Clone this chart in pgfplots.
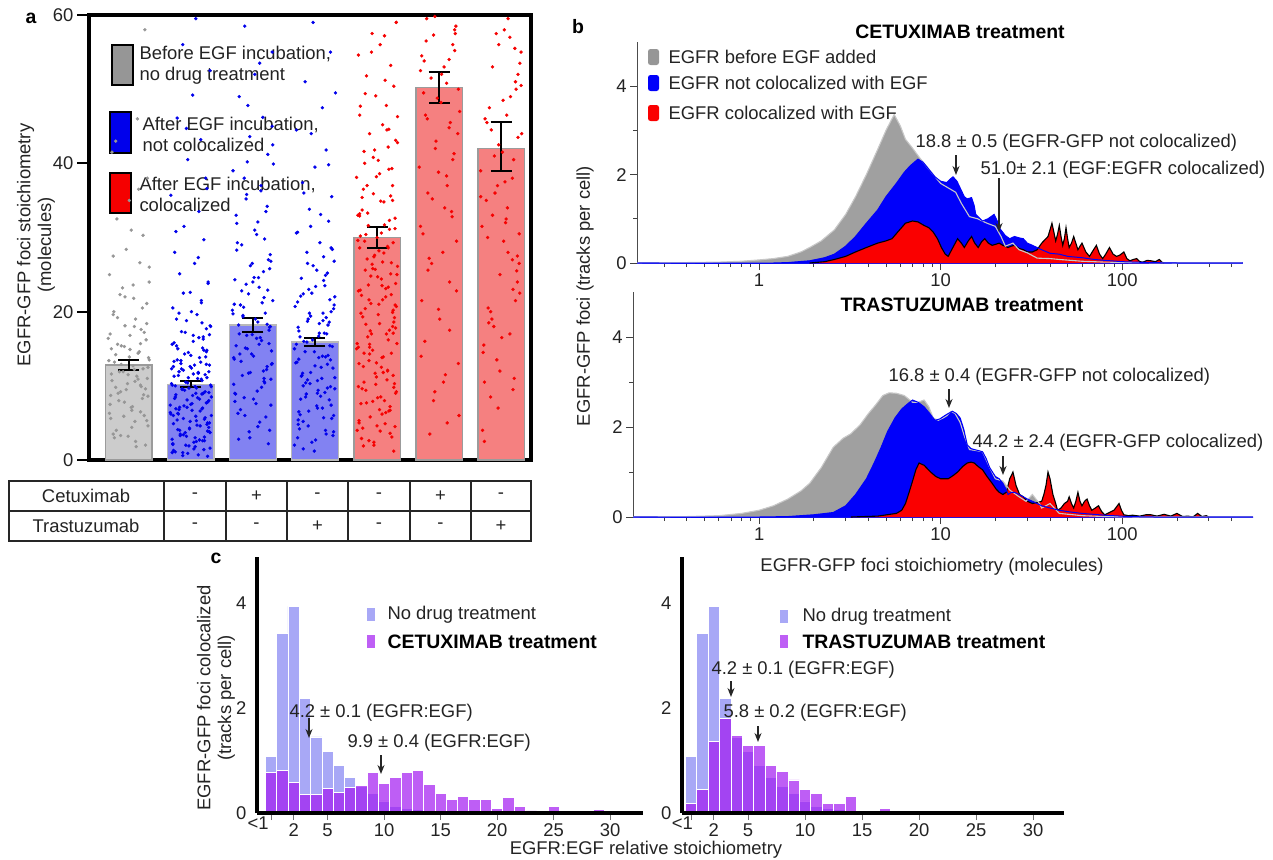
\documentclass[border=0pt]{standalone}
\usepackage{fontspec}
\setmainfont{Liberation Sans}
\usepackage{pgfplots}
\usepackage{pgfplotstable}
\pgfplotsset{compat=1.18}
\usetikzlibrary{arrows.meta}

\definecolor{barGray}{RGB}{204,204,204}
\definecolor{barBlue}{RGB}{130,130,242}
\definecolor{barRed}{RGB}{245,128,128}
\definecolor{edgeGray}{RGB}{155,155,155}
\definecolor{dotGray}{RGB}{150,150,150}
\definecolor{dotBlue}{RGB}{0,0,235}
\definecolor{dotRed}{RGB}{245,0,0}
\definecolor{legGray}{RGB}{150,150,150}
\definecolor{kdeGray}{RGB}{160,160,160}
\definecolor{kdeLine}{RGB}{200,200,200}
\definecolor{kdeBlue}{RGB}{0,0,250}
\definecolor{kdeRed}{RGB}{250,0,0}
\definecolor{noDrug}{RGB}{168,168,246}
\definecolor{drugPurple}{RGB}{162,26,241}
\definecolor{txt}{RGB}{35,35,35}

\newcommand{\fs}{\fontsize{18.5}{21}\selectfont}
\newcommand{\fb}{\fontsize{19.5}{22}\selectfont\bfseries}

% ---- panel b: cetuximab
\pgfplotstableread{
x y
0.21 0
0.4 0.01
0.6 0.02
0.8 0.04
1.0 0.07
1.2 0.1
1.44 0.15
1.7 0.25
1.9 0.35
2.2 0.5
2.6 0.75
3.0 1.1
3.4 1.5
3.9 2.0
4.5 2.57
5.0 3.0
5.55 3.36
6.0 3.1
6.4 2.8
7.0 2.6
7.6 2.4
8.5 2.15
10 1.8
11 1.7
12.1 1.6
13 1.35
14.4 1.05
16 1.0
18 0.9
20 0.83
21.5 0.6
22.7 0.38
25 0.45
27 0.3
30 0.23
34 0.11
40 0.1
45 0.08
60 0.04
80 0.02
120 0.01
200 0
460 0
}\gTop
\pgfplotstableread{
x y
0.21 0
1.2 0
1.44 0.01
1.9 0.05
2.3 0.12
2.6 0.2
3.0 0.38
3.4 0.6
3.9 0.9
4.5 1.2
5.0 1.5
5.7 1.8
6.3 2.05
6.8 2.2
7.5 2.35
8.0 2.28
8.5 2.15
9.3 1.95
10 1.85
10.8 1.82
11.3 1.9
11.7 1.95
12.3 1.85
12.8 1.7
13.5 1.5
14.0 1.45
14.8 1.48
15.3 1.3
15.6 1.1
17 0.95
18.2 1.0
19.7 1.1
20.5 0.95
21 0.8
22.7 0.62
24 0.55
25.5 0.6
27 0.57
28.5 0.55
30 0.45
32 0.4
36 0.3
40 0.22
45 0.2
50 0.15
60 0.12
70 0.08
80 0.06
100 0.03
140 0.01
200 0
460 0
}\bTop
\pgfplotstableread{
x y
1.9 0
2.3 0.03
2.6 0.08
3.0 0.15
3.4 0.25
3.9 0.35
4.5 0.45
5.0 0.5
5.4 0.55
5.8 0.7
6.4 0.9
7.0 0.95
7.5 0.93
8.1 0.85
8.6 0.8
9.1 0.7
9.6 0.55
10.1 0.35
10.6 0.2
11.0 0.15
11.5 0.3
12.4 0.55
13.0 0.45
13.5 0.35
14.2 0.5
14.8 0.6
15.4 0.45
16.1 0.35
16.8 0.48
17.5 0.55
18.3 0.45
19.2 0.4
20 0.42
21 0.45
22 0.4
23.5 0.35
24.5 0.38
25.5 0.4
27 0.33
28.6 0.3
30 0.25
32 0.25
34 0.3
36 0.45
38 0.55
39 0.6
40 0.75
41 0.9
42 0.7
43 0.5
44 0.65
45 0.85
46 0.6
47 0.4
48 0.55
49 0.8
50 0.55
51 0.35
52.5 0.45
54 0.6
55.5 0.45
57 0.3
58.5 0.38
60 0.45
63 0.25
66 0.15
69 0.28
72 0.4
75 0.2
78 0.1
81 0.2
85 0.35
89 0.2
93 0.15
97 0.18
102 0.25
106 0.1
110 0.05
115 0.08
120 0.1
125 0.03
130 0.02
137 0.06
144 0.05
152 0.03
160 0.08
165 0.02
170 0
}\rTop
% ---- panel b: trastuzumab
\pgfplotstableread{
x y
0.2 0
0.4 0.01
0.6 0.03
0.8 0.08
1.0 0.15
1.2 0.25
1.44 0.4
1.7 0.58
1.9 0.75
2.2 1.1
2.56 1.55
2.9 1.75
3.2 1.85
3.6 2.05
4.0 2.3
4.4 2.5
4.8 2.7
5.2 2.76
5.7 2.75
6.3 2.7
7.0 2.55
7.5 2.55
8.1 2.6
8.6 2.45
9.1 2.2
9.7 2.15
10.3 2.2
10.8 2.25
11.4 2.35
12.0 2.3
12.8 2.1
13.5 1.8
14.4 1.5
15.5 1.48
17 1.45
18.6 1.1
20 0.85
22 0.8
24 0.6
27 0.45
29.5 0.35
32 0.5
35 0.3
36 0.2
40 0.3
45 0.08
60 0.03
80 0.01
120 0
525 0
}\gBot
\pgfplotstableread{
x y
0.2 0
1.0 0
1.44 0.01
2.0 0.05
2.56 0.1
3.0 0.25
3.4 0.5
3.9 0.85
4.3 1.2
4.7 1.55
5.1 1.9
5.6 2.2
6.1 2.4
6.6 2.52
7.0 2.6
7.5 2.55
8.1 2.45
8.7 2.3
9.3 2.15
9.9 2.18
10.5 2.25
11.0 2.3
11.6 2.35
12.2 2.3
12.8 2.2
13.4 1.95
14.0 1.6
14.7 1.52
15.3 1.5
16 1.48
17 1.45
17.8 1.3
18.6 1.1
20 0.9
21 0.85
22 0.75
23 0.6
23.5 0.5
24.5 0.55
25.5 0.55
27 0.5
28.5 0.45
30 0.4
32 0.35
36 0.25
40 0.2
45 0.15
50 0.12
60 0.08
80 0.04
108 0.01
150 0
525 0
}\bBot
\pgfplotstableread{
x y
3.2 0
4.5 0.02
5.7 0.08
6.1 0.15
6.4 0.3
6.7 0.55
7.0 0.8
7.3 1.05
7.6 1.2
8.1 1.15
8.8 1.0
9.4 0.9
10.0 0.85
11.0 0.85
11.7 0.92
12.4 1.0
13.2 1.12
14.0 1.2
14.7 1.22
15.3 1.2
16.1 1.12
17.0 1.05
18.0 0.9
19.2 0.75
20.2 0.62
21.0 0.55
22.0 0.5
23.0 0.55
24.0 0.85
25.0 1.0
26.0 0.7
27.2 0.5
28.5 0.45
30 0.35
32 0.3
34 0.32
36 0.35
37 0.5
38 0.7
39 1.0
40 0.85
41.5 0.5
43 0.3
44 0.15
46 0.2
48 0.3
50 0.35
51 0.45
52.5 0.3
54 0.2
55.5 0.35
57 0.55
58.5 0.35
60 0.25
62 0.35
64 0.4
66 0.25
68 0.15
71 0.2
74 0.25
77 0.12
80 0.05
85 0.1
90 0.15
96 0.3
99 0.15
102 0.05
108 0.03
114 0.04
125 0.02
135 0.05
144 0.05
155 0.02
170 0.06
185 0.02
200 0.08
215 0.01
230 0.02
245 0
260 0.08
275 0.01
290 0.03
300 0
}\rBot
% ---- panel c histograms
\pgfplotstableread{
bin y
0 1.08
1 3.43
2 3.94
3 2.19
4 1.45
5 1.18
6 0.90
7 0.68
8 0.50
9 0.37
10 0.23
11 0.13
12 0.08
13 0.06
}\noDrugTab
\pgfplotstableread{
bin y
0 0.77
1 0.81
2 0.59
3 0.35
4 0.35
5 0.47
6 0.40
7 0.48
8 0.52
9 0.77
10 0.56
11 0.68
12 0.78
13 0.81
14 0.54
15 0.37
16 0.26
17 0.32
18 0.26
19 0.26
20 0.09
21 0.29
22 0.12
23 0.04
24 0.02
25 0.13
26 0.05
27 0.01
28 0.01
29 0.06
}\cetuxTab
\pgfplotstableread{
bin y
0 0.19
1 0.45
2 1.37
3 1.80
4 1.48
5 1.28
6 1.28
7 0.90
8 0.80
9 0.63
10 0.45
11 0.37
12 0.18
13 0.18
14 0.31
15 0.05
16 0.02
17 0.08
18 0.01
19 0.02
20 0.02
21 0.01
22 0.02
23 0.01
}\trastTab

\pgfplotsset{every axis/.append style={scale only axis, tick label style={font=\fs, text=txt}}}
\tikzset{ann/.style={-{Stealth[length=9bp,width=7bp]}, line width=1.4bp, black!85}}

\begin{document}
\begin{tikzpicture}[x=1bp,y=1bp,font=\fs]
\useasboundingbox (0,0) rectangle (1273,-860);

% ================= panel a =================
\node[font=\fb] at (31,-18) {a};
\node[rotate=90, align=center, text=txt] at (36,-245) {EGFR-GFP foci stoichiometry\\(molecules)};
\draw[black, line width=1.5bp, fill=legGray] (112,-45) rectangle (133,-85);
\draw[black, line width=1.5bp, fill=dotBlue] (110,-112) rectangle (131,-153);
\draw[black, line width=1.5bp, fill=dotRed] (110,-173) rectangle (131,-213);
\node[anchor=west, align=left, text=txt] at (136,-65) {Before EGF incubation,\\no drug treatment};
\node[anchor=west, align=left, text=txt] at (139,-134) {After EGF incubation,\\not colocalized};
\node[anchor=west, align=left, text=txt] at (136,-194) {After EGF incubation,\\colocalized};

\begin{axis}[
  at={(89bp,-460bp)}, anchor=south west, width=442bp, height=445bp,
  xmin=0.36, xmax=7.48, ymin=0, ymax=60,
  xtick=\empty, ytick={0,20,40,60}, yticklabels={0,20,40,60},
  ytick pos=left, tick align=outside, major tick length=12bp,
  axis line style={line width=3.5bp}, ytick style={line width=2bp, black},
]
  \addplot[ybar, bar width=0.75, bar shift=0pt, fill=barGray, draw=edgeGray, line width=1.5bp]
    coordinates {(1,12.8)};
  \addplot[ybar, bar width=0.75, bar shift=0pt, fill=barBlue, draw=edgeGray!70, line width=1.2bp]
    coordinates {(2,10.2) (3,18.2) (4,15.9)};
  \addplot[ybar, bar width=0.75, bar shift=0pt, fill=barRed, draw=edgeGray, line width=1.5bp]
    coordinates {(5,30.0) (6,50.2) (7,42.0)};
  % individual foci
  \addplot[only marks, color=dotGray, mark=*, mark size=1.5bp, mark options={draw=dotGray, fill=dotGray}] coordinates {
    (1.12,1.8)(0.75,3.5)(1.31,4.6)(0.92,5.9)(1.05,6.7)(0.70,7.5)(1.22,8.3)(0.83,9.0)(1.27,9.6)(0.98,10.3)
    (1.15,10.9)(0.72,11.6)(1.09,12.2)(0.88,12.9)(1.33,13.5)(0.79,14.2)(1.02,14.9)(1.19,15.7)(0.67,16.4)(1.25,17.2)
    (0.94,18.1)(1.11,19.0)(0.76,20.0)(1.29,21.1)(0.86,22.3)(1.07,23.6)(0.69,25.0)(1.18,26.6)(0.96,28.4)(1.23,30.3)
    (0.81,32.5)(1.01,35.0)(1.30,38.0)(0.73,41.5)(1.14,46.0)(0.90,52.0)(1.26,58.0)(0.77,3.0)(1.04,7.1)(1.20,9.9)
    (0.85,11.9)(1.32,13.8)(0.93,15.3)(1.10,5.2)(0.71,8.7)
    (1.11,2.5)(0.80,4.0)(1.29,5.3)(0.69,6.3)(1.06,7.2)(0.84,8.0)(1.24,8.8)(0.96,9.5)(1.19,10.1)(0.73,10.7)
    (1.13,11.3)(0.91,11.9)(1.31,12.5)(0.77,13.2)(1.01,13.9)(1.17,14.6)(0.88,15.4)(1.28,16.2)(0.70,17.0)(1.09,18.0)
    (0.82,19.2)(1.22,20.5)(0.94,22.0)(1.33,24.0)(0.75,27.5)(1.04,31.0)(1.16,36.5)(0.79,43.0)(1.25,6.0)(0.87,9.2)
    (1.07,12.7)(0.72,15.0)(1.20,17.6)(0.99,3.2)(1.30,11.0)
    (1.27,2.0)(0.87,3.3)(1.05,4.4)(0.71,5.6)(1.19,6.5)(0.93,7.8)(1.31,8.6)(0.79,9.8)(1.10,10.6)(0.99,11.5)
    (1.23,12.3)(0.68,13.4)(1.15,14.4)(0.82,15.6)(1.02,16.8)(1.29,18.4)(0.75,19.6)(1.08,21.8)(0.90,23.2)(1.33,26.0)};
  \addplot[only marks, color=dotBlue, mark=*, mark size=1.5bp, mark options={draw=dotBlue, fill=dotBlue}] coordinates {
    (2.12,0.7)(1.75,1.1)(2.31,1.6)(1.92,2.0)(2.05,2.4)(1.70,2.8)(2.22,3.1)(1.83,3.5)(2.27,3.9)(1.98,4.2)
    (2.15,4.6)(1.72,4.9)(2.09,5.3)(1.88,5.6)(2.33,6.0)(1.79,6.3)(2.02,6.7)(2.19,7.0)(1.67,7.4)(2.25,7.7)
    (1.94,8.1)(2.11,8.4)(1.76,8.8)(2.29,9.1)(1.86,9.5)(2.07,9.9)(1.69,10.3)(2.18,10.7)(1.96,11.1)(2.23,11.5)
    (1.81,11.9)(2.01,12.4)(2.30,12.8)(1.73,13.3)(2.14,13.8)(1.90,14.3)(2.26,14.8)(1.77,15.4)(2.04,16.0)(2.20,16.6)
    (1.85,17.3)(2.32,18.0)(1.93,18.8)(2.10,19.6)(1.71,20.5)(2.17,21.5)(1.99,22.6)(2.28,23.8)(1.82,25.1)(2.06,26.5)
    (1.74,28.0)(2.21,29.7)(1.89,31.5)(2.13,33.5)(1.68,35.7)(2.24,38.0)(1.95,40.5)(2.16,43.2)(1.78,46.1)(2.03,49.2)
    (2.31,52.5)(1.87,56.0)(2.08,59.5)(1.72,1.3)(2.22,2.6)(1.91,3.7)(2.27,5.0)(1.80,6.2)(2.00,7.5)(2.18,8.9)
    (1.70,10.1)(2.12,11.7)(1.84,13.0)(2.25,14.6)(1.97,1.9)(2.29,4.4)(1.76,6.9)(2.09,9.7)(1.88,12.1)(2.20,16.3)
    (1.95,0.9)(2.21,1.4)(1.71,2.2)(2.14,2.7)(1.83,3.3)(2.30,3.8)(1.98,4.3)(2.26,4.8)(1.78,5.4)(2.08,5.9)
    (1.67,6.4)(2.18,6.9)(1.89,7.3)(2.27,7.8)(1.74,8.3)(2.03,8.7)(2.23,9.2)(1.86,9.6)(2.32,10.1)(1.92,10.5)
    (2.11,11.0)(1.80,11.4)(2.29,11.9)(1.69,12.3)(2.06,12.8)(1.84,13.4)(2.24,13.9)(1.96,14.5)(2.19,15.1)(1.73,15.8)
    (2.13,16.5)(1.91,17.2)(2.31,18.1)(1.77,19.0)(2.01,20.0)(2.17,21.2)(1.88,22.5)(2.28,24.0)(1.70,1.0)(2.09,2.5)
    (1.82,4.0)(2.22,5.5)(1.94,7.1)(2.33,8.5)(1.75,10.0)(2.04,11.6)(2.16,13.2)(1.79,15.0)(2.25,17.7)(1.87,0.6)
    (2.07,3.0)(1.72,6.0)(2.20,9.0)(1.99,12.6)(2.30,16.9)(1.81,19.8)(2.12,27.3)(1.76,30.8)(2.26,36.6)(1.93,44.7)
    (2.27,0.5)(1.87,1.0)(2.05,1.5)(1.71,2.1)(2.19,2.6)(1.93,3.2)(2.31,3.7)(1.79,4.1)(2.10,4.7)(1.99,5.2)
    (2.23,5.7)(1.68,6.2)(2.15,6.6)(1.82,7.1)(2.02,7.6)(2.29,8.0)(1.75,8.5)(2.08,9.0)(1.90,9.4)(2.33,9.9)
    (1.95,10.4)(2.17,10.9)(1.73,11.3)(2.12,11.8)(1.85,12.3)(2.25,12.9)(1.78,13.5)(2.00,14.1)(2.21,14.8)(1.70,15.6)
    (2.07,1.8)(1.88,3.4)(2.30,5.0)(1.81,6.8)(2.14,8.2)(1.97,9.7)(2.26,11.1)(1.72,12.6)(2.04,16.8)(2.18,18.5)
    (3.25,2.2)(2.94,3.8)(3.11,5.1)(2.76,6.3)(3.29,7.4)(2.86,8.4)(3.07,9.3)(2.69,10.2)(3.18,11.0)(2.96,11.8)
    (3.23,12.6)(2.81,13.3)(3.01,14.0)(3.30,14.7)(2.73,15.4)(3.14,16.1)(2.90,16.8)(3.26,17.5)(2.77,18.2)(3.04,19.0)
    (3.20,19.8)(2.85,20.6)(3.32,21.5)(2.93,22.4)(3.10,23.3)(2.71,24.3)(3.17,25.4)(2.99,26.5)(3.28,27.7)(2.82,29.0)
    (3.06,30.4)(2.74,31.9)(3.21,33.5)(2.89,35.2)(3.13,37.0)(2.68,39.0)(3.24,41.2)(2.95,43.6)(3.16,46.2)(2.78,49.0)
    (3.03,52.0)(3.31,55.0)(2.87,58.5)(3.08,4.5)(2.72,8.9)(3.22,12.2)(2.91,15.0)(3.27,17.9)(2.80,20.9)(3.00,24.0)
    (3.18,10.6)(2.70,13.6)(3.12,16.5)(2.84,19.3)(3.25,27.0)
    (2.95,3.0)(3.21,5.8)(2.71,7.9)(3.14,9.8)(2.83,11.4)(3.30,12.9)(2.98,14.3)(3.26,15.7)(2.78,17.0)(3.08,18.6)
    (2.67,20.2)(3.18,21.9)(2.89,23.7)(3.27,25.8)(2.74,28.3)(3.03,31.0)(3.23,34.2)(2.86,38.0)(3.32,42.5)(2.92,47.8)
    (3.11,53.5)(2.80,6.8)(3.29,10.9)(2.69,13.8)(3.06,16.4)(2.84,19.5)(3.24,22.9)(2.96,26.2)(3.19,29.8)(2.73,33.0)
    (3.13,36.3)(2.91,40.2)(3.31,45.0)(2.77,2.8)(3.01,8.2)(3.17,12.0)(2.88,15.1)(3.28,18.0)(2.70,21.0)(3.09,24.6)
    (3.27,4.0)(2.87,6.0)(3.05,7.6)(2.71,9.0)(3.19,10.4)(2.93,11.7)(3.31,13.0)(2.79,14.3)(3.10,15.6)(2.99,16.9)
    (3.23,18.3)(2.68,19.7)(3.15,21.2)(2.82,22.8)(3.02,24.6)(3.29,26.8)(2.75,29.3)(3.08,32.1)(2.90,35.8)(3.33,39.9)
    (3.81,1.5)(4.01,2.7)(4.30,3.8)(3.73,4.8)(4.14,5.7)(3.90,6.6)(4.26,7.4)(3.77,8.2)(4.04,9.0)(4.20,9.7)
    (3.85,10.4)(4.32,11.1)(3.93,11.8)(4.10,12.5)(3.71,13.2)(4.17,13.9)(3.99,14.6)(4.28,15.3)(3.82,16.0)(4.06,16.7)
    (3.74,17.4)(4.21,18.2)(3.89,19.0)(4.13,19.8)(3.68,20.7)(4.24,21.6)(3.95,22.5)(4.16,23.5)(3.78,24.5)(4.03,25.6)
    (4.31,26.8)(3.87,28.0)(4.08,29.3)(3.72,30.7)(4.22,32.2)(3.91,33.8)(4.27,35.5)(3.80,37.4)(4.00,39.5)(4.18,41.8)
    (3.70,44.5)(4.12,47.5)(3.84,51.0)(4.25,55.0)(3.97,59.0)(4.29,3.3)(3.76,6.1)(4.09,8.6)(3.88,10.8)(4.20,12.9)
    (3.67,15.0)(4.15,17.1)(3.93,19.4)(4.32,22.0)(3.81,5.2)(4.05,9.4)(3.74,13.6)(4.23,18.6)(3.90,23.0)(4.14,27.4)
    (3.67,2.0)(4.18,3.5)(3.89,4.6)(4.27,5.6)(3.74,6.5)(4.03,7.3)(4.23,8.1)(3.86,8.9)(4.32,9.6)(3.92,10.3)
    (4.11,11.0)(3.80,11.7)(4.29,12.4)(3.69,13.1)(4.06,13.8)(3.84,14.6)(4.24,15.4)(3.96,16.2)(4.19,17.0)(3.73,17.9)
    (4.13,18.8)(3.91,19.8)(4.31,20.9)(3.77,22.1)(4.01,23.4)(4.17,24.9)(3.88,26.5)(4.28,28.4)(3.70,30.6)(4.09,33.1)
    (3.82,36.0)(4.22,39.8)(3.94,44.0)(4.33,49.5)(3.75,4.2)(4.04,7.0)(4.16,9.1)(3.79,11.4)(4.25,13.5)(3.87,15.9)
    (4.07,18.4)(3.72,21.3)(4.20,25.2)(3.99,1.2)(4.30,6.0)(3.81,10.0)(4.12,14.0)(3.76,16.6)(4.26,20.0)(3.93,31.5)
    (3.95,2.4)(4.17,4.0)(3.73,5.4)(4.12,7.0)(3.85,8.5)(4.25,9.9)(3.78,11.3)(4.00,12.7)(4.21,14.1)(3.70,15.6)
    (4.07,17.1)(3.88,18.7)(4.30,20.4)(3.81,22.4)(4.14,24.2)(3.97,26.2)(4.26,28.6)(3.72,3.0)(4.04,10.7)(4.18,19.2)};
  \addplot[only marks, color=dotRed, mark=*, mark size=1.5bp, mark options={draw=dotRed, fill=dotRed}] coordinates {
    (5.12,62.0)(4.75,60.5)(5.31,59.0)(4.92,57.5)(5.05,56.0)(4.70,54.6)(5.22,53.2)(4.83,51.8)(5.27,50.4)(4.98,49.1)
    (5.15,47.8)(4.72,46.5)(5.09,45.2)(4.88,44.0)(5.33,42.8)(4.79,41.6)(5.02,40.4)(5.19,39.2)(4.67,38.1)(5.25,37.0)
    (4.94,35.9)(5.11,34.8)(4.76,33.7)(5.29,32.6)(4.86,31.6)(5.07,30.6)(4.69,29.6)(5.18,28.6)(4.96,27.6)(5.23,26.6)
    (4.81,25.6)(5.01,24.7)(5.30,23.8)(4.73,22.9)(5.14,22.0)(4.90,21.1)(5.26,20.2)(4.77,19.3)(5.04,18.4)(5.20,17.5)
    (4.85,16.6)(5.32,15.7)(4.93,14.8)(5.10,13.9)(4.71,13.0)(5.17,12.1)(4.99,11.2)(5.28,10.3)(4.82,9.4)(5.06,8.5)
    (4.74,7.6)(5.21,6.7)(4.89,5.8)(5.13,4.9)(4.68,4.0)(5.24,3.1)(4.95,2.4)(5.16,44.5)(4.78,36.5)(5.03,28.2)
    (5.31,20.7)(4.87,13.4)(5.08,6.2)(4.72,33.2)(5.22,25.1)(4.91,17.0)(5.27,9.8)(4.80,40.0)(5.00,30.0)(5.18,23.3)
    (4.70,15.2)(5.12,8.0)(4.84,27.1)(5.25,19.9)(4.97,11.7)(5.29,4.5)(4.76,35.4)(5.09,21.6)(4.88,14.3)(5.20,31.1)
    (4.95,2.0)(5.21,3.6)(4.71,5.0)(5.14,6.4)(4.83,7.7)(5.30,9.0)(4.98,10.2)(5.26,11.4)(4.78,12.6)(5.08,13.8)
    (4.67,15.0)(5.18,16.2)(4.89,17.4)(5.27,18.6)(4.74,19.8)(5.03,21.0)(5.23,22.3)(4.86,23.6)(5.32,25.0)(4.92,26.4)
    (5.11,27.9)(4.80,29.5)(5.29,31.2)(4.69,33.0)(5.06,34.9)(4.84,37.0)(5.24,39.3)(4.96,41.8)(5.19,44.6)(4.73,47.7)
    (5.13,51.2)(4.91,55.0)(5.31,59.0)(4.77,4.3)(5.01,8.4)(5.17,12.0)(4.88,15.6)(5.28,19.2)(4.70,22.8)(5.09,26.7)
    (4.82,30.4)(5.22,35.6)(4.94,40.8)(5.33,46.3)(4.75,2.9)(5.04,6.8)(5.16,10.8)(4.79,14.4)(5.25,18.0)(4.87,21.6)
    (5.07,24.4)(4.72,28.6)(5.20,32.3)(4.99,38.2)(5.30,43.1)(4.81,49.4)(5.12,57.2)(4.76,9.6)(5.26,17.1)(4.93,25.8)
    (5.27,1.2)(4.87,2.6)(5.05,3.9)(4.71,5.3)(5.19,6.6)(4.93,7.9)(5.31,9.2)(4.79,10.5)(5.10,11.8)(4.99,13.1)
    (5.23,14.4)(4.68,15.7)(5.15,17.0)(4.82,18.3)(5.02,19.6)(5.29,20.9)(4.75,22.2)(5.08,23.5)(4.90,24.8)(5.33,26.1)
    (4.95,27.4)(5.17,28.8)(4.73,30.2)(5.12,31.7)(4.85,33.3)(5.25,35.0)(4.78,1.9)(5.00,4.6)(5.21,7.2)(4.70,9.9)
    (5.07,12.5)(4.88,15.2)(5.30,17.8)(4.81,20.4)(5.14,23.1)(4.97,25.7)(5.26,29.3)(4.72,32.9)(5.04,38.6)(5.18,42.2)
    (5.85,3.5)(6.32,6.0)(5.93,9.2)(6.10,11.5)(5.71,14.0)(6.17,17.5)(5.99,20.3)(6.28,22.8)(5.82,25.6)(6.06,28.0)
    (5.74,30.5)(6.21,32.8)(5.89,35.2)(6.13,37.0)(5.68,39.5)(6.24,41.3)(5.95,43.0)(6.16,44.8)(5.78,46.5)(6.03,48.2)
    (6.31,50.0)(5.87,51.5)(6.08,53.0)(5.72,54.5)(6.22,56.0)(5.91,57.3)(6.27,58.5)(5.80,59.5)(6.00,61.0)(6.18,45.5)
    (5.70,52.5)(6.12,38.3)(5.84,27.2)(6.25,55.2)(5.97,48.8)
    (6.13,5.0)(5.91,8.0)(6.31,13.0)(5.77,16.0)(6.01,19.0)(6.17,24.0)(5.88,26.5)(6.28,29.5)(5.70,31.5)(6.09,34.0)
    (5.82,36.0)(6.22,40.5)(5.94,42.0)(6.33,47.0)(5.75,49.5)(6.04,52.0)(6.16,54.0)(5.79,56.5)(6.25,58.0)(5.87,60.5)
    (6.07,10.5)(5.72,21.5)(6.20,33.5)(5.99,38.8)(6.30,44.0)(5.81,46.0)(6.12,50.8)(5.76,53.8)(6.26,57.5)(5.93,59.8)
    (7.05,58.0)(6.70,4.0)(7.22,55.5)(6.83,8.5)(7.27,52.0)(6.98,12.0)(7.15,49.0)(6.72,15.5)(7.09,46.5)(6.88,18.0)
    (7.33,44.0)(6.79,20.5)(7.02,41.5)(7.19,23.0)(6.67,39.0)(7.25,25.5)(6.94,37.0)(7.11,28.0)(6.76,35.0)(7.29,30.5)
    (6.86,33.0)(7.07,32.0)(6.69,60.5)(7.18,27.0)(6.96,42.5)(7.23,21.5)(6.81,47.5)(7.01,16.5)(7.30,53.5)(6.73,10.5)
    (7.14,57.0)(6.90,36.0)(7.26,24.0)(6.77,45.5)(7.04,29.5)(7.20,40.5)(6.85,19.0)(7.32,50.5)(6.93,13.5)(7.10,34.0)
    (6.95,7.0)(7.21,11.0)(6.71,14.5)(7.14,17.0)(6.83,20.0)(7.30,22.5)(6.98,25.0)(7.26,27.5)(6.78,30.0)(7.08,32.5)
    (6.67,35.5)(7.18,38.0)(6.89,41.0)(7.27,43.5)(6.74,46.0)(7.03,48.5)(7.23,51.0)(6.86,53.0)(7.32,55.0)(6.92,57.5)
    (7.11,59.5)(6.80,18.5)(7.29,26.5)(6.69,31.5)(7.06,37.5)(6.84,44.5)(7.24,50.0)(6.96,56.0)(7.19,9.5)(6.73,2.5)};
  % means with error bars
  \addplot[draw=none, mark=none,
    error bars/.cd, y dir=both, y explicit,
    error bar style={line width=2bp, draw=black},
    error mark options={rotate=90, mark size=10.5bp, line width=2bp, draw=black}]
    coordinates {
      (1,12.8) +- (0,0.7)
      (2,10.2) +- (0,0.4)
      (3,18.2) +- (0,0.9)
      (4,15.9) +- (0,0.5)
      (5,30.0) +- (0,1.4)
      (6,50.2) +- (0,2.1)
      (7,42.3) +- (0,3.3)
    };
\end{axis}

% treatment table
\draw[line width=1.5bp, black!85] (9,-481) rectangle (531,-541);
\draw[line width=1.5bp, black!85] (9,-511) -- (531,-511);
\foreach \xx in {164,226,287,348,410,471} \draw[line width=1.5bp, black!85] (\xx,-481) -- (\xx,-541);
\node[text=txt] at (86,-496) {Cetuximab};
\node[text=txt] at (86,-526) {Trastuzumab};
\foreach \xx/\cet/\tra in {195/-/-, 256.5/+/-, 317.5/-/+, 379/-/-, 440.5/+/-, 501/-/+} {
  \node[text=txt] at (\xx,-496) {\cet};
  \node[text=txt] at (\xx,-526) {\tra};
}

% ================= panel b =================
\node[font=\fb] at (578,-27) {b};
\node[rotate=90, text=txt] at (585,-296) {EGFR-GFP foci (tracks per cell)};

\begin{axis}[at={(637bp,-263bp)}, anchor=south west, width=606bp, height=221bp,
  xmode=log, xmin=0.213, xmax=462, ymin=0, ymax=5,
  axis x line=bottom, axis y line=left, axis line style={-},
  x axis line style={draw=kdeBlue, line width=1.2bp},
  y axis line style={draw=black!70, line width=1bp},
  xtick={1,10,100}, xticklabels={1,10,100},
  minor xtick={0.3,0.4,0.5,0.6,0.7,0.8,0.9,2,3,4,5,6,7,8,9,20,30,40,50,60,70,80,90,200,300,400},
  ytick={0,2,4}, yticklabels={0,2,4}, minor ytick={1,3},
  tick align=outside, major tick length=7bp, minor tick length=4bp,
  tick style={black!75, line width=0.8bp}]
  \addplot[fill=kdeGray, draw=none] table {\gTop} \closedcycle;
  \addplot[fill=kdeBlue, draw=none] table {\bTop} \closedcycle;
  \addplot[fill=kdeRed, draw=none] table {\rTop} \closedcycle;
  \addplot[black, line width=1.1bp] table {\rTop};
  \addplot[kdeLine, line width=1.1bp] table {\gTop};
  \addplot[kdeBlue, line width=1bp] table {\bTop};
\end{axis}
\node[font=\fb] at (960,-32) {CETUXIMAB treatment};
\fill[legGray, rounded corners=2.5bp] (648,-49) rectangle (659,-65);
\fill[kdeBlue, rounded corners=2.5bp] (648,-75) rectangle (659,-91);
\fill[kdeRed, rounded corners=2.5bp] (648,-105) rectangle (659,-121);
\node[anchor=west, text=txt] at (665,-57) {EGFR before EGF added};
\node[anchor=west, text=txt] at (665,-83) {EGFR not colocalized with EGF};
\node[anchor=west, text=txt] at (665,-113) {EGFR colocalized with EGF};
\node[anchor=west, text=txt] at (912,-143) {18.8 ± 0.5 (EGFR-GFP not colocalized)};
\draw[ann] (956,-155) -- (956,-175);
\node[anchor=west, text=txt] at (977,-170) {51.0± 2.1 (EGF:EGFR colocalized)};
\draw[ann] (999,-178) -- (999,-232);

\begin{axis}[at={(633bp,-517bp)}, anchor=south west, width=620bp, height=225bp,
  xmode=log, xmin=0.202, xmax=525, ymin=0, ymax=5,
  axis x line=bottom, axis y line=left, axis line style={-},
  x axis line style={draw=kdeBlue, line width=1.2bp},
  y axis line style={draw=black!70, line width=1bp},
  xtick={1,10,100}, xticklabels={1,10,100},
  minor xtick={0.3,0.4,0.5,0.6,0.7,0.8,0.9,2,3,4,5,6,7,8,9,20,30,40,50,60,70,80,90,200,300,400},
  ytick={0,2,4}, yticklabels={0,2,4}, minor ytick={1,3},
  tick align=outside, major tick length=7bp, minor tick length=4bp,
  tick style={black!75, line width=0.8bp}]
  \addplot[fill=kdeGray, draw=none] table {\gBot} \closedcycle;
  \addplot[fill=kdeBlue, draw=none] table {\bBot} \closedcycle;
  \addplot[fill=kdeRed, draw=none] table {\rBot} \closedcycle;
  \addplot[black, line width=1.1bp] table {\rBot};
  \addplot[kdeLine, line width=1.1bp] table {\gBot};
  \addplot[kdeBlue, line width=1bp] table {\bBot};
\end{axis}
\node[font=\fb] at (962,-305) {TRASTUZUMAB treatment};
\node[anchor=west, text=txt] at (885,-377) {16.8 ± 0.4 (EGFR-GFP not colocalized)};
\draw[ann] (949,-389) -- (949,-408);
\node[anchor=west, text=txt] at (969,-443) {44.2 ± 2.4 (EGFR-GFP colocalized)};
\draw[ann] (1003,-456) -- (1003,-475);
\node[text=txt] at (932,-567) {EGFR-GFP foci stoichiometry (molecules)};

% ================= panel c =================
\node[font=\fb] at (216,-558) {c};
\node[rotate=90, align=center, text=txt] at (216,-698) {EGFR-GFP foci colocalized\\(tracks per cell)};

\begin{axis}[at={(257bp,-813bp)}, anchor=south west, width=386bp, height=256bp,
  xmin=-1.24, xmax=32.9, ymin=0, ymax=4.88, axis on top,
  axis x line=bottom, axis y line=left,
  axis line style={-, line width=3.5bp, black},
  xtick={0,2,5,10,15,20,25,30}, xticklabels={,2,5,10,15,20,25,30},
  extra x ticks={-1.15}, extra x tick labels={<1},
  extra x tick style={major tick length=0pt},
  ytick={0,2,4}, yticklabels={0,2,4}, ytick style={draw=none},
  xtick style={black!55, line width=0.7bp},
  tick align=outside, major tick length=7bp]
  \addplot[ybar, bar width=1, bar shift=0pt, fill=noDrug, draw=white, line width=0.8bp]
    table[x=bin, y=y] {\noDrugTab};
  \addplot[ybar, bar width=1, bar shift=0pt, fill=drugPurple, fill opacity=0.7, draw=white, line width=0.8bp]
    table[x=bin, y=y] {\cetuxTab};
\end{axis}
\fill[noDrug] (367,-608) rectangle (375,-621);
\fill[drugPurple!70!white] (367,-635) rectangle (375,-648);
\node[anchor=west, text=txt] at (384,-615) {No drug treatment};
\node[anchor=west, font=\fb] at (384,-642) {CETUXIMAB treatment};
\node[anchor=west, text=txt] at (286,-713) {4.2 ± 0.1 (EGFR:EGF)};
\draw[ann] (309,-718) -- (309,-738);
\node[anchor=west, text=txt] at (344,-743) {9.9 ± 0.4 (EGFR:EGF)};
\draw[ann] (381,-755) -- (381,-774);

\begin{axis}[at={(682bp,-813bp)}, anchor=south west, width=382bp, height=256bp,
  xmin=-0.79, xmax=32.7, ymin=0, ymax=4.88, axis on top,
  axis x line=bottom, axis y line=left,
  axis line style={-, line width=3.5bp, black},
  xtick={0,2,5,10,15,20,25,30}, xticklabels={,2,5,10,15,20,25,30},
  extra x ticks={-0.75}, extra x tick labels={<1},
  extra x tick style={major tick length=0pt},
  ytick={0,2,4}, yticklabels={0,2,4}, ytick style={draw=none},
  xtick style={black!55, line width=0.7bp},
  tick align=outside, major tick length=7bp]
  \addplot[ybar, bar width=1, bar shift=0pt, fill=noDrug, draw=white, line width=0.8bp]
    table[x=bin, y=y] {\noDrugTab};
  \addplot[ybar, bar width=1, bar shift=0pt, fill=drugPurple, fill opacity=0.7, draw=white, line width=0.8bp]
    table[x=bin, y=y] {\trastTab};
\end{axis}
\fill[noDrug] (780,-610) rectangle (788,-623);
\fill[drugPurple!70!white] (780,-635) rectangle (788,-648);
\node[anchor=west, text=txt] at (799,-617) {No drug treatment};
\node[anchor=west, font=\fb] at (799,-642) {TRASTUZUMAB treatment};
\node[anchor=west, text=txt] at (708,-670) {4.2 ± 0.1 (EGFR:EGF)};
\draw[ann] (731,-681) -- (731,-697);
\node[anchor=west, text=txt] at (720,-713) {5.8 ± 0.2 (EGFR:EGF)};
\draw[ann] (758,-726) -- (758,-742);

\node[text=txt] at (646,-850) {EGFR:EGF relative stoichiometry};
\end{tikzpicture}
\end{document}
